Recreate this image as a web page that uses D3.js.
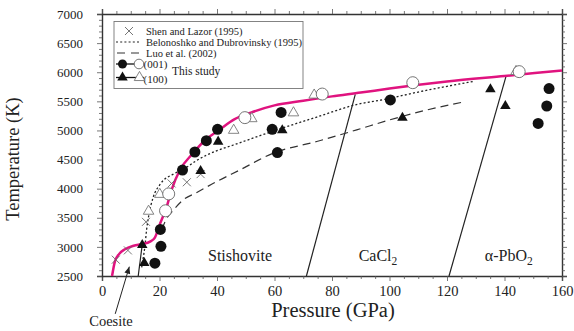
<!DOCTYPE html>
<html>
<head>
<meta charset="utf-8">
<script src="https://cdn.jsdelivr.net/npm/d3@7"></script>
<style>
  body { margin: 0; background: #fff; }
  svg text { font-family: "Liberation Serif", serif !important; }
</style>
</head>
<body>
<div id="chart"></div>
<script>
// melting curve of SiO2 (this study), pink
const meltCurve = [
  [3.5, 2500], [4.5, 2750], [6, 2880], [8, 2960], [11, 3020], [14, 3050],
  [16.7, 3090], [18.4, 3160], [20.2, 3400], [22.5, 3690], [24.2, 3980],
  [27.1, 4320], [31.5, 4600], [36, 4840], [40.5, 5000], [46, 5190],
  [52, 5310], [60, 5430], [70, 5510], [80, 5585], [90, 5650], [100, 5720],
  [120, 5840], [140, 5935], [160, 6030]
];
// Belonoshko and Dubrovinsky (1995), dotted
const belonoshko = [
  [13.8, 2650], [14.3, 2800], [14.9, 3000], [15.5, 3290], [16.3, 3550],
  [17.8, 3850], [20.3, 4080], [24.8, 4250], [28.3, 4330], [32.8, 4480],
  [39.8, 4650], [45.7, 4750], [59.6, 4990], [74.7, 5230], [89, 5450],
  [98, 5530], [110, 5660], [129, 5840]
];
// Luo et al. (2002), dashed
const luo = [
  [20.8, 3300], [22.3, 3470], [24.8, 3630], [28.3, 3810], [32.8, 3930],
  [39.8, 4120], [47.9, 4320], [59.6, 4610], [74.7, 4810], [88.6, 5010],
  [100, 5180], [112, 5340], [125.8, 5490]
];
// phase boundaries
const boundaries = [
  [[12.6, 2500], [14, 3040]],
  [[71.1, 2500], [88.1, 5620]],
  [[120.7, 2500], [140.5, 5925]]
];
// Shen and Lazor (1995)
const shenLazor = [[4.8, 2780], [9, 2940], [15.3, 3430], [24.2, 4090], [29.5, 4110], [34.3, 4250]];
// this study
const filled001 = [
  [18.4, 2720], [20.5, 3010], [20.3, 3300], [28, 4320], [32.3, 4630],
  [36.3, 4825], [40.2, 5020], [59.2, 5020], [61, 4620], [62.3, 5310],
  [100.3, 5525], [151.7, 5120], [154.7, 5420], [155.5, 5720]
];
const open001 = [[22.1, 3620], [23.2, 3910], [49.7, 5220], [76.6, 5625], [108.1, 5820], [145.1, 6010]];
const filled100 = [
  [14, 3050], [14.7, 2740], [34.3, 4320], [40.4, 4825], [62.7, 5020],
  [104.5, 5236], [135.1, 5724], [140.3, 5437]
];
const open100 = [[16.2, 3630], [20.1, 3920], [45.8, 5020], [52.1, 5220], [66.6, 5320], [73.8, 5625], [144, 6030]];

const xTicks = [0, 20, 40, 60, 80, 100, 120, 140, 160];
const yTicks = [2500, 3000, 3500, 4000, 4500, 5000, 5500, 6000, 6500, 7000];
const phaseLabels = [
  { text: "Stishovite", p: 48, t: 2760 },
  { text: "CaCl", sub: "2", p: 96, t: 2760 },
  { text: "\u03b1-PbO", sub: "2", p: 141.5, t: 2760 }
];
const legendItems = [
  "Shen and Lazor (1995)",
  "Belonoshko and Dubrovinsky (1995)",
  "Luo et al. (2002)",
  "(001)",
  "(100)"
];

const width = 574, height = 331;
const margin = { top: 14, right: 12, bottom: 55, left: 102 };
const pink = "#e0137f";

const svg = d3.select("#chart").append("svg")
  .attr("width", width)
  .attr("height", height);

const x = d3.scaleLinear().domain([0, 160]).range([margin.left, width - margin.right]);
const y = d3.scaleLinear().domain([2500, 7000]).range([height - margin.bottom, margin.top]);

// axes, ticks outward on all four sides
const xMinor = d3.range(0, 161, 5).filter(v => v % 20 !== 0);
const yMinor = d3.range(2500, 7001, 100).filter(v => v % 500 !== 0);

svg.append("g")
  .attr("transform", `translate(0,${y(2500)})`)
  .call(d3.axisBottom(x).tickValues(xTicks).tickSize(5).tickPadding(5).tickFormat(d3.format("d")))
  .call(g => g.selectAll("text").style("font-size", "14.5px"));
svg.append("g")
  .attr("transform", `translate(0,${y(2500)})`)
  .call(d3.axisBottom(x).tickValues(xMinor).tickSize(3).tickFormat(""))
  .call(g => g.select(".domain").remove());
svg.append("g")
  .attr("transform", `translate(0,${y(7000)})`)
  .call(d3.axisTop(x).tickValues(xTicks).tickSize(5).tickFormat(""));
svg.append("g")
  .attr("transform", `translate(0,${y(7000)})`)
  .call(d3.axisTop(x).tickValues(xMinor).tickSize(3).tickFormat(""))
  .call(g => g.select(".domain").remove());

svg.append("g")
  .attr("transform", `translate(${x(0)},0)`)
  .call(d3.axisLeft(y).tickValues(yTicks).tickSize(5).tickPadding(14).tickFormat(d3.format("d")))
  .call(g => g.selectAll("text").style("font-size", "13px"));
svg.append("g")
  .attr("transform", `translate(${x(0)},0)`)
  .call(d3.axisLeft(y).tickValues(yMinor).tickSize(3).tickFormat(""))
  .call(g => g.select(".domain").remove());
svg.append("g")
  .attr("transform", `translate(${x(160)},0)`)
  .call(d3.axisRight(y).tickValues(yTicks).tickSize(5).tickFormat(""));
svg.append("g")
  .attr("transform", `translate(${x(160)},0)`)
  .call(d3.axisRight(y).tickValues(yMinor).tickSize(3).tickFormat(""))
  .call(g => g.select(".domain").remove());

svg.selectAll(".domain").attr("stroke", "#333").attr("stroke-width", 1.4);
svg.selectAll(".tick line").attr("stroke", "#555").attr("stroke-width", 0.8);
svg.selectAll(".tick text").attr("fill", "#222");

// axis titles
svg.append("text")
  .attr("x", 333)
  .attr("y", 317)
  .attr("text-anchor", "middle")
  .attr("fill", "#222")
  .style("font-size", "20.5px")
  .text("Pressure (GPa)");
svg.append("text")
  .attr("transform", "translate(19,159) rotate(-90)")
  .attr("text-anchor", "middle")
  .attr("fill", "#222")
  .style("font-size", "18.5px")
  .text("Temperature (K)");

const line = d3.line().x(d => x(d[0])).y(d => y(d[1]));
const smooth = d3.line().x(d => x(d[0])).y(d => y(d[1])).curve(d3.curveMonotoneX);

// phase boundaries
svg.selectAll(".boundary")
  .data(boundaries)
  .enter()
  .append("path")
  .attr("d", line)
  .attr("fill", "none")
  .attr("stroke", "#222")
  .attr("stroke-width", 1.2);

// literature curves
svg.append("path")
  .attr("d", smooth(belonoshko))
  .attr("fill", "none")
  .attr("stroke", "#222")
  .attr("stroke-width", 1.3)
  .attr("stroke-dasharray", "2,2.2");
svg.append("path")
  .attr("d", smooth(luo))
  .attr("fill", "none")
  .attr("stroke", "#333")
  .attr("stroke-width", 1.2)
  .attr("stroke-dasharray", "8,5");

// melting curve
svg.append("path")
  .attr("d", smooth(meltCurve))
  .attr("fill", "none")
  .attr("stroke", pink)
  .attr("stroke-width", 2.5);

// markers
const cross = (g, px, py, s) => {
  g.append("path")
    .attr("d", `M${px - s},${py - s}L${px + s},${py + s}M${px - s},${py + s}L${px + s},${py - s}`)
    .attr("stroke", "#666")
    .attr("stroke-width", 0.9)
    .attr("fill", "none");
};
const tri = d3.symbol().type(d3.symbolTriangle).size(48);

const marks = svg.append("g");
shenLazor.forEach(d => cross(marks, x(d[0]), y(d[1]), 4));

marks.selectAll(".o100")
  .data(open100)
  .enter()
  .append("path")
  .attr("d", tri)
  .attr("transform", d => `translate(${x(d[0])},${y(d[1]) + 1})`)
  .attr("fill", "#fff")
  .attr("stroke", "#777")
  .attr("stroke-width", 0.9);
marks.selectAll(".o001")
  .data(open001)
  .enter()
  .append("circle")
  .attr("cx", d => x(d[0]))
  .attr("cy", d => y(d[1]))
  .attr("r", 6)
  .attr("fill", "#fff")
  .attr("stroke", "#666")
  .attr("stroke-width", 0.9);
marks.selectAll(".f100")
  .data(filled100)
  .enter()
  .append("path")
  .attr("d", tri)
  .attr("transform", d => `translate(${x(d[0])},${y(d[1]) + 1})`)
  .attr("fill", "#111");
marks.selectAll(".f001")
  .data(filled001)
  .enter()
  .append("circle")
  .attr("cx", d => x(d[0]))
  .attr("cy", d => y(d[1]))
  .attr("r", 5.5)
  .attr("fill", "#111");

// phase labels
phaseLabels.forEach(l => {
  const t = svg.append("text")
    .attr("x", x(l.p))
    .attr("y", y(l.t))
    .attr("text-anchor", "middle")
    .attr("fill", "#222")
    .style("font-size", "16px")
    .text(l.text);
  if (l.sub) {
    t.append("tspan").attr("dy", 4).style("font-size", "11.5px").text(l.sub);
  }
});

// coesite annotation
svg.append("text")
  .attr("x", 111)
  .attr("y", 326)
  .attr("text-anchor", "middle")
  .attr("fill", "#222")
  .style("font-size", "14.5px")
  .text("Coesite");
const a0 = [x(4.6), y(1850)], a1 = [x(9.5), y(2660)];
svg.append("line")
  .attr("x1", a0[0]).attr("y1", a0[1])
  .attr("x2", a1[0]).attr("y2", a1[1])
  .attr("stroke", "#222")
  .attr("stroke-width", 1);
const ang = Math.atan2(a1[1] - a0[1], a1[0] - a0[0]);
const ah = 7, aw = 3;
svg.append("path")
  .attr("d", `M${a1[0]},${a1[1]}` +
    `L${a1[0] - ah * Math.cos(ang) + aw * Math.sin(ang)},${a1[1] - ah * Math.sin(ang) - aw * Math.cos(ang)}` +
    `L${a1[0] - ah * Math.cos(ang) - aw * Math.sin(ang)},${a1[1] - ah * Math.sin(ang) + aw * Math.cos(ang)}Z`)
  .attr("fill", "#222");

// legend
const legend = svg.append("g");
legend.append("rect")
  .attr("x", 114).attr("y", 21.5)
  .attr("width", 189).attr("height", 67)
  .attr("fill", "#fff")
  .attr("stroke", "#777")
  .attr("stroke-width", 0.9);
const rowY = [31, 42, 53, 64, 77.5];
legend.selectAll(".ltext")
  .data(legendItems)
  .enter()
  .append("text")
  .attr("x", (d, i) => i < 3 ? 146 : 143.5)
  .attr("y", (d, i) => rowY[i] + 4 + (i === 4 ? 1.5 : 0))
  .attr("fill", "#222")
  .style("font-size", (d, i) => i < 3 ? "10.5px" : "11px")
  .text(d => d);
legend.append("text")
  .attr("x", 172).attr("y", 75)
  .attr("fill", "#222")
  .style("font-size", "11.5px")
  .text("This study");
cross(legend, 129, rowY[0], 4);
legend.append("line")
  .attr("x1", 116).attr("x2", 141).attr("y1", rowY[1]).attr("y2", rowY[1])
  .attr("stroke", "#222").attr("stroke-width", 1.2).attr("stroke-dasharray", "2,2.2");
legend.append("line")
  .attr("x1", 117).attr("x2", 145).attr("y1", rowY[2]).attr("y2", rowY[2])
  .attr("stroke", "#333").attr("stroke-width", 1.2).attr("stroke-dasharray", "8,6");
[3, 4].forEach(i => {
  legend.append("line")
    .attr("x1", 116).attr("x2", 144).attr("y1", rowY[i]).attr("y2", rowY[i])
    .attr("stroke", "#111").attr("stroke-width", 1.3);
});
legend.append("circle").attr("cx", 122.5).attr("cy", rowY[3]).attr("r", 4.5).attr("fill", "#111");
legend.append("circle").attr("cx", 139).attr("cy", rowY[3]).attr("r", 4.8)
  .attr("fill", "#fff").attr("stroke", "#666").attr("stroke-width", 0.9);
legend.append("path").attr("d", tri).attr("transform", `translate(122.5,${rowY[4]})`).attr("fill", "#111");
legend.append("path").attr("d", tri).attr("transform", `translate(139.5,${rowY[4]})`)
  .attr("fill", "#fff").attr("stroke", "#777").attr("stroke-width", 0.9);

svg.selectAll("text").style("font-family", "'Liberation Serif', serif");
</script>
</body>
</html>
